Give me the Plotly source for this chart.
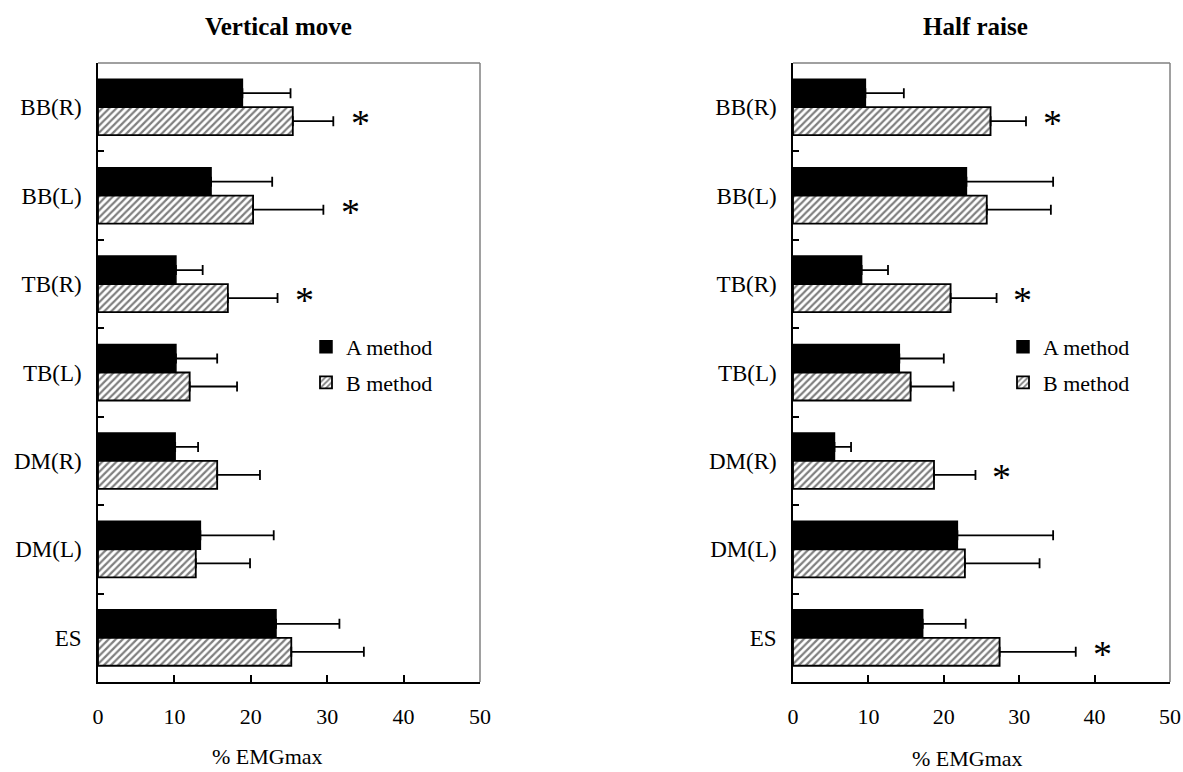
import plotly.graph_objects as go

# Muscle categories (top to bottom)
muscles = ["BB(R)", "BB(L)", "TB(R)", "TB(L)", "DM(R)", "DM(L)", "ES"]

# Vertical move: mean and SD of %EMGmax
vm_a = [18.9, 14.8, 10.2, 10.2, 10.1, 13.4, 23.3]
vm_a_sd = [6.3, 8.0, 3.5, 5.4, 3.0, 9.6, 8.3]
vm_b = [25.5, 20.3, 17.0, 12.0, 15.6, 12.8, 25.3]
vm_b_sd = [5.3, 9.2, 6.5, 6.2, 5.6, 7.1, 9.5]
vm_sig = [True, True, True, False, False, False, False]

# Half raise: mean and SD of %EMGmax
hr_a = [9.6, 23.0, 9.1, 14.1, 5.5, 21.8, 17.2]
hr_a_sd = [5.1, 11.5, 3.5, 5.9, 2.2, 12.7, 5.7]
hr_b = [26.2, 25.7, 20.9, 15.6, 18.7, 22.8, 27.4]
hr_b_sd = [4.7, 8.5, 6.1, 5.7, 5.5, 9.9, 10.1]
hr_sig = [True, False, True, False, True, False, True]

panel_titles = ["Vertical move", "Half raise"]
x_ticks = [0, 10, 20, 30, 40, 50]
x_title = "% EMGmax"

FONT = "Liberation Serif"
W, H = 1183, 772

fig = go.Figure()


def err(sd):
    return dict(type="data", array=sd, arrayminus=[0] * len(sd), symmetric=False,
                color="black", thickness=1.8, width=5)


panels = [
    (vm_a, vm_a_sd, vm_b, vm_b_sd, vm_sig, "x", "y", "legend"),
    (hr_a, hr_a_sd, hr_b, hr_b_sd, hr_sig, "x2", "y2", "legend2"),
]

for a, a_sd, b, b_sd, sig, xa, ya, lg in panels:
    fig.add_trace(go.Bar(
        y=muscles, x=a, orientation="h", name="A method",
        marker=dict(color="black", line=dict(color="black", width=1.5)),
        error_x=err(a_sd), xaxis=xa, yaxis=ya, legend=lg, legendgroup="A",
    ))
    fig.add_trace(go.Bar(
        y=muscles, x=b, orientation="h", name="B method",
        marker=dict(color="white", line=dict(color="black", width=1.8),
                    pattern=dict(shape="/", fgcolor="black", bgcolor="white",
                                 size=5, solidity=0.45)),
        error_x=err(b_sd), xaxis=xa, yaxis=ya, legend=lg, legendgroup="B",
    ))
    # significance markers to the right of the B-method error bar
    for i, s in enumerate(sig):
        if s:
            fig.add_annotation(
                x=b[i] + b_sd[i] + 3.5, y=i + 0.16, xref=xa, yref=ya,
                text="*", showarrow=False, yshift=-2,
                xanchor="center", yanchor="middle",
                font=dict(family=FONT, size=38, color="black"),
            )

# plot-area placement (pixels)
left_px = [(98, 480), (793, 1170)]
top_px, bottom_px = 63, 682
ydom = [(H - bottom_px) / H, (H - top_px) / H]
title_dx = [-11, -6]
xtitle_dx = [-22, -14]
xtitle_y = [756, 758]

for k, (x0, x1) in enumerate(left_px):
    sfx = "" if k == 0 else str(k + 1)
    fig.update_layout(**{
        "xaxis" + sfx: dict(
            domain=[x0 / W, x1 / W], range=[0, 50], tickvals=x_ticks,
            ticks="inside", ticklen=7, tickwidth=1.5, tickcolor="black",
            showline=True, linecolor="black", linewidth=1.5, showgrid=False,
            zeroline=False, tickfont=dict(family=FONT, size=22, color="black"),
            ticklabelstandoff=14, anchor="y" + sfx, automargin=False,
        ),
        "yaxis" + sfx: dict(
            domain=ydom, autorange="reversed", type="category",
            ticks="inside", tickson="boundaries", ticklen=6, tickwidth=1.5,
            tickcolor="black", showline=True, linecolor="black", linewidth=1.5,
            showgrid=False, zeroline=False,
            tickfont=dict(family=FONT, size=23, color="black"),
            ticklabelstandoff=10, anchor="x" + sfx, automargin=False,
        ),
    })
    # grey top and right frame edges
    fig.add_shape(type="line", xref="x" + sfx + " domain", yref="y" + sfx + " domain",
                  x0=0, x1=1, y0=1, y1=1, line=dict(color="#808080", width=1.5))
    fig.add_shape(type="line", xref="x" + sfx + " domain", yref="y" + sfx + " domain",
                  x0=1, x1=1, y0=0, y1=1, line=dict(color="#808080", width=1.5))
    # panel title
    fig.add_annotation(text="<b>" + panel_titles[k] + "</b>", xref="paper", yref="paper",
                       x=((x0 + x1) / 2 + title_dx[k]) / W, y=1 - 26 / H,
                       xanchor="center", yanchor="middle", showarrow=False,
                       font=dict(family=FONT, size=25, color="black"))
    # axis title
    fig.add_annotation(text=x_title, xref="paper", yref="paper",
                       x=((x0 + x1) / 2 + xtitle_dx[k]) / W, y=1 - xtitle_y[k] / H,
                       xanchor="center", yanchor="middle", showarrow=False,
                       font=dict(family=FONT, size=22, color="black"))

legend_style = dict(
    xanchor="left", yanchor="top", bgcolor="rgba(0,0,0,0)",
    font=dict(family=FONT, size=22, color="black"), tracegroupgap=4,
    traceorder="grouped",
)
fig.update_layout(
    width=W, height=H, margin=dict(l=0, r=0, t=0, b=0),
    plot_bgcolor="white", paper_bgcolor="white",
    barmode="group", bargap=0.367, bargroupgap=0,
    showlegend=True,
    legend=dict(x=306 / W, y=1 - 326 / H, **legend_style),
    legend2=dict(x=1003 / W, y=1 - 326 / H, **legend_style),
)

fig.write_html("out.html")
